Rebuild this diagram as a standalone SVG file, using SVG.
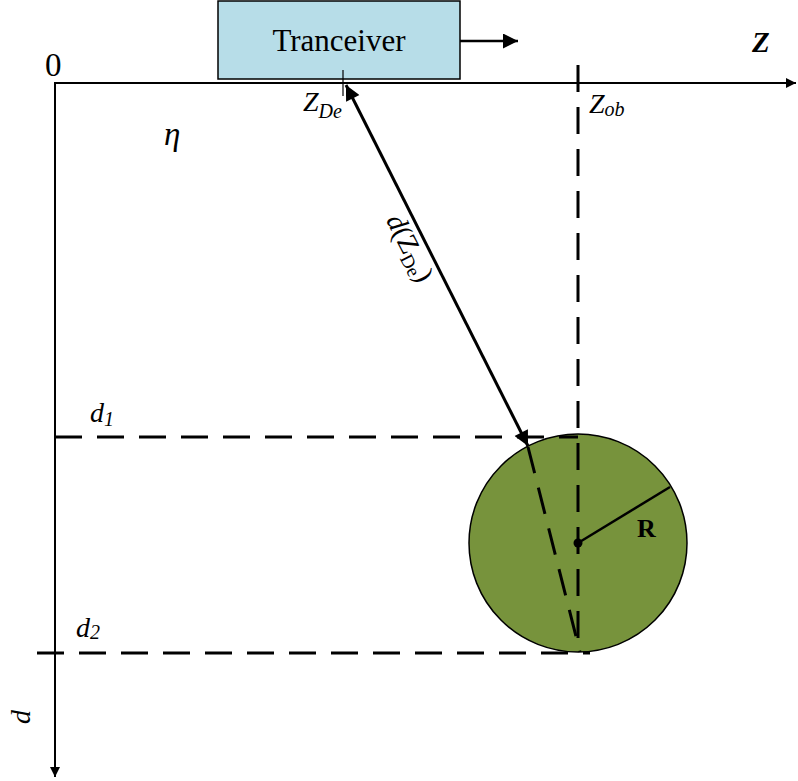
<svg xmlns="http://www.w3.org/2000/svg" width="798" height="781" viewBox="0 0 798 781">
<style>
  .t{font-family:"Liberation Serif","Times New Roman",serif;fill:#000}
  .i{font-style:italic}
  .ax{stroke:#000;stroke-width:2;fill:none}
  .dash{stroke:#000;stroke-width:3;fill:none;stroke-dasharray:27 15}
</style>
<defs>
  <marker id="ah" viewBox="0 0 10 10" refX="10" refY="5" markerWidth="10" markerHeight="10" markerUnits="userSpaceOnUse" orient="auto">
    <path d="M0,0 L10,5 L0,10 Z" fill="#000"/>
  </marker>
  <marker id="bh" viewBox="0 0 10 10" refX="10" refY="5" markerWidth="19" markerHeight="15" markerUnits="userSpaceOnUse" orient="auto-start-reverse">
    <path d="M0,0 L10,5 L0,10 Z" fill="#000"/>
  </marker>
</defs>
<rect width="798" height="781" fill="#fff"/>

<g id="object">
  <circle cx="578" cy="543" r="109" fill="#77933C" stroke="#000" stroke-width="1.5"/>
  <line x1="578" y1="543" x2="670" y2="487" stroke="#000" stroke-width="2.5"/>
  <circle cx="578" cy="543" r="4.5" fill="#000"/>
  <text class="t" x="637" y="537" font-size="26" font-weight="bold">R</text>
</g>

<g id="transceiver">
  <rect x="218" y="1" width="242" height="78" fill="#B7DDE8" stroke="#000" stroke-width="1.5"/>
  <text class="t" x="339" y="51" font-size="31" text-anchor="middle">Tranceiver</text>
</g>

<g id="connectors">
  <line class="ax" x1="55" y1="83" x2="796" y2="83" marker-end="url(#ah)"/>
  <line class="ax" x1="55" y1="82" x2="55" y2="777" marker-end="url(#ah)"/>
  <line x1="460" y1="41" x2="518" y2="41" stroke="#000" stroke-width="2.5" marker-end="url(#bh)"/>
  <line x1="343" y1="70" x2="343" y2="96" stroke="#000" stroke-width="1.2"/>
  <line x1="578" y1="65" x2="578" y2="652" class="dash" stroke-dasharray="30 20"/>
  <line x1="55" y1="437" x2="578" y2="437" class="dash"/>
  <line x1="37" y1="653" x2="590" y2="653" class="dash"/>
  <line x1="528" y1="447" x2="580" y2="652" class="dash" stroke-dasharray="30 18"/>
  <line x1="346" y1="85" x2="528" y2="446" stroke="#000" stroke-width="3" marker-start="url(#bh)" marker-end="url(#bh)"/>
</g>

<g id="labels">
  <text class="t" x="45" y="76" font-size="33">0</text>
  <text class="t i" x="752" y="52" font-size="29" font-weight="bold">Z</text>
  <text class="t i" x="303" y="111" font-size="28">Z<tspan font-size="20" dy="7">De</tspan></text>
  <text class="t i" x="589" y="113" font-size="28">Z<tspan font-size="20" dy="3">ob</tspan></text>
  <text class="t i" x="164" y="145" font-size="33">η</text>
  <text class="t i" x="90" y="422" font-size="28">d<tspan font-size="20" dy="4">1</tspan></text>
  <text class="t i" x="76" y="637" font-size="28">d<tspan font-size="20" dy="2">2</tspan></text>
  <text class="t i" font-size="28" transform="translate(30,717) rotate(-90)" text-anchor="middle">d</text>
  <text class="t" font-size="28" transform="translate(402,252) rotate(63)" text-anchor="middle"><tspan font-style="italic">d</tspan>(Z<tspan font-size="19" dy="5">De</tspan><tspan dy="-5">)</tspan></text>
</g>
</svg>
